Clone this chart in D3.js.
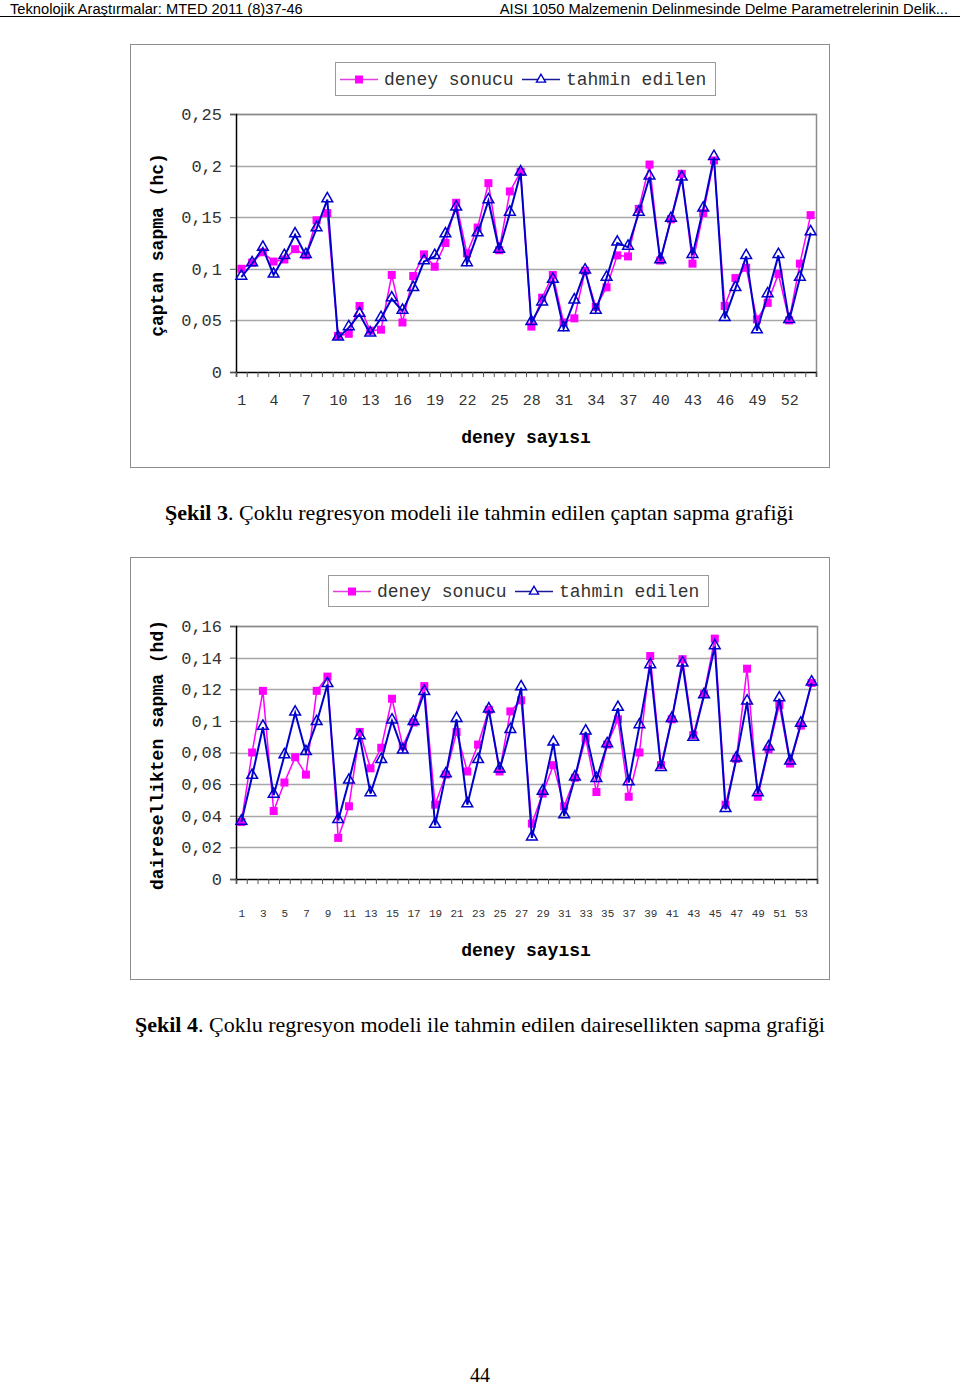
<!DOCTYPE html>
<html><head><meta charset="utf-8">
<script src="https://cdn.jsdelivr.net/npm/d3@7"></script>
<style>body{margin:0;background:#fff}svg{display:block}</style>
</head><body>
<script>
const experiments = d3.range(1, 55);
const hcDeney = [0.100,0.106,0.116,0.107,0.109,0.119,0.113,0.147,0.154,0.035,0.037,0.064,0.040,0.041,0.094,0.048,0.093,0.114,0.102,0.125,0.164,0.115,0.140,0.183,0.118,0.175,0.194,0.044,0.072,0.094,0.048,0.052,0.098,0.063,0.082,0.113,0.112,0.158,0.201,0.108,0.148,0.192,0.105,0.154,0.205,0.064,0.091,0.101,0.051,0.067,0.095,0.050,0.105,0.152];
const hcTahmin = [0.092,0.105,0.120,0.094,0.112,0.133,0.113,0.139,0.167,0.033,0.043,0.056,0.037,0.052,0.071,0.059,0.081,0.107,0.112,0.133,0.159,0.105,0.134,0.166,0.118,0.154,0.193,0.048,0.067,0.089,0.042,0.069,0.098,0.059,0.091,0.125,0.121,0.154,0.189,0.108,0.148,0.188,0.113,0.158,0.208,0.052,0.081,0.112,0.040,0.075,0.113,0.050,0.091,0.135];
const hdDeney = [0.036,0.080,0.119,0.043,0.061,0.077,0.066,0.119,0.128,0.026,0.046,0.093,0.070,0.083,0.114,0.084,0.099,0.122,0.047,0.066,0.093,0.068,0.085,0.107,0.068,0.106,0.113,0.035,0.054,0.072,0.046,0.064,0.089,0.055,0.085,0.101,0.052,0.080,0.141,0.072,0.101,0.139,0.091,0.117,0.152,0.047,0.076,0.133,0.052,0.082,0.110,0.073,0.097,0.124];
const hdTahmin = [0.036,0.065,0.096,0.053,0.078,0.105,0.080,0.099,0.123,0.037,0.062,0.090,0.054,0.075,0.100,0.081,0.099,0.118,0.034,0.066,0.101,0.047,0.075,0.107,0.069,0.094,0.121,0.026,0.055,0.086,0.040,0.064,0.093,0.063,0.085,0.108,0.061,0.097,0.135,0.070,0.101,0.136,0.089,0.116,0.147,0.044,0.076,0.112,0.054,0.083,0.114,0.074,0.098,0.124];
const yTicks1 = [0, 0.05, 0.1, 0.15, 0.2, 0.25];
const yTicks2 = [0, 0.02, 0.04, 0.06, 0.08, 0.1, 0.12, 0.14, 0.16];
const xTicks1 = [1,4,7,10,13,16,19,22,25,28,31,34,37,40,43,46,49,52];
const xTicks2 = [1,3,5,7,9,11,13,15,17,19,21,23,25,27,29,31,33,35,37,39,41,43,45,47,49,51,53];
const seriesNames = ["deney sonucu", "tahmin edilen"];
const yLabels = ["çaptan sapma (hc)", "dairesellikten sapma (hd)"];
const xTitle = "deney sayısı";

const PINK = "#ff00ff", BLUE = "#0000cc";
const MONO = "'Liberation Mono','DejaVu Sans Mono',monospace";
const SERIF = "'Liberation Serif','Times New Roman',serif";

const svg = d3.select("body").append("svg").attr("width", 960).attr("height", 1387);

// header
svg.append("text").attr("x", 10).attr("y", 13.5).attr("font-family", "'Liberation Sans',Arial,sans-serif")
  .attr("font-size", 14.7).text("Teknolojik Araştırmalar: MTED 2011 (8)37-46");
svg.append("text").attr("x", 948).attr("y", 13.5).attr("text-anchor", "end").attr("font-family", "'Liberation Sans',Arial,sans-serif")
  .attr("font-size", 14.7).text("AISI 1050 Malzemenin Delinmesinde Delme Parametrelerinin Delik...");
svg.append("line").attr("x1", 0).attr("x2", 960).attr("y1", 16.5).attr("y2", 16.5).attr("stroke", "#000").attr("stroke-width", 1);

function fmt(v) { return String(v).replace(".", ","); }

function chart(cfg) {
  const g = svg.append("g");
  g.append("rect").attr("x", cfg.box[0] + 0.5).attr("y", cfg.box[1] + 0.5)
    .attr("width", cfg.box[2] - cfg.box[0]).attr("height", cfg.box[3] - cfg.box[1])
    .attr("fill", "#fff").attr("stroke", "#8c8c8c");

  const x = d3.scaleLinear().domain([0.5, 54.5]).range([cfg.plot[0], cfg.plot[2]]);
  const y = d3.scaleLinear().domain([0, cfg.ymax]).range([cfg.plot[3], cfg.plot[1]]);

  // gridlines
  g.append("g").selectAll("line").data(cfg.yTicks.filter(d => d > 0)).join("line")
    .attr("x1", cfg.plot[0]).attr("x2", cfg.plot[2])
    .attr("y1", d => Math.round(y(d)) + 0.5).attr("y2", d => Math.round(y(d)) + 0.5)
    .attr("stroke", "#a6a6a6").attr("stroke-width", 1.3);
  // plot border (top/right)
  g.append("path").attr("d", `M${cfg.plot[0]},${cfg.plot[1] + 0.5}H${cfg.plot[2] + 0.5}V${cfg.plot[3]}`)
    .attr("fill", "none").attr("stroke", "#8c8c8c").attr("stroke-width", 1.5);

  // y axis
  const ya = g.append("g").attr("transform", `translate(${cfg.plot[0]},0)`)
    .call(d3.axisLeft(y).tickValues(cfg.yTicks).tickSize(6).tickPadding(8).tickFormat(fmt));
  ya.select(".domain").attr("stroke", "#000").attr("stroke-width", 1.5);
  ya.selectAll(".tick line").attr("stroke", "#555");
  ya.selectAll("text").attr("font-family", MONO).attr("font-size", 17).attr("fill", "#333");

  // x axis: boundary tick marks
  const xa = g.append("g").attr("transform", `translate(0,${cfg.plot[3]})`)
    .call(d3.axisBottom(x).tickValues(d3.range(0.5, 55, 1)).tickSize(5).tickFormat(""));
  xa.select(".domain").attr("stroke", "#000").attr("stroke-width", 1.5);
  xa.selectAll(".tick line").attr("stroke", "#555");
  // x labels
  const xl = g.append("g").attr("transform", `translate(0,${cfg.plot[3]})`)
    .call(d3.axisBottom(x).tickValues(cfg.xTicks).tickSize(0).tickPadding(cfg.xPad));
  xl.select(".domain").remove();
  xl.selectAll("text").attr("font-family", MONO).attr("font-size", cfg.xFont).attr("fill", "#333");

  // axis titles
  g.append("text").attr("x", 526).attr("y", cfg.xTitleY).attr("text-anchor", "middle")
    .attr("font-family", MONO).attr("font-weight", "bold").attr("font-size", 18).text(xTitle);
  g.append("text").attr("transform", `translate(${cfg.yTitle[0]},${cfg.yTitle[1]}) rotate(-90)`)
    .attr("text-anchor", "middle").attr("font-family", MONO).attr("font-weight", "bold")
    .attr("font-size", 18).text(cfg.yLabel);

  // series
  const line = d3.line().x((d, i) => x(experiments[i])).y(d => y(d));
  g.append("path").datum(cfg.a).attr("d", line).attr("fill", "none").attr("stroke", PINK).attr("stroke-width", 1.5);
  g.append("g").selectAll("rect").data(cfg.a).join("rect")
    .attr("x", (d, i) => x(experiments[i]) - 4).attr("y", d => y(d) - 4)
    .attr("width", 8).attr("height", 8).attr("fill", PINK);
  g.append("path").datum(cfg.b).attr("d", line).attr("fill", "none").attr("stroke", BLUE).attr("stroke-width", 2);
  const tri = d3.symbol().type(d3.symbolTriangle).size(50);
  g.append("g").selectAll("path").data(cfg.b).join("path")
    .attr("transform", (d, i) => `translate(${x(experiments[i])},${y(d) - 1})`)
    .attr("d", tri).attr("fill", "none").attr("stroke", BLUE).attr("stroke-width", 1.5);

  // legend
  const L = cfg.legend;
  g.append("rect").attr("x", L[0] + 0.5).attr("y", L[1] + 0.5).attr("width", L[2] - L[0]).attr("height", L[3] - L[1])
    .attr("fill", "#fff").attr("stroke", "#9a9a9a");
  const ly = (L[1] + L[3]) / 2 + 1;
  const lx1 = L[0] + 5, lx2 = L[0] + 187;
  g.append("line").attr("x1", lx1).attr("x2", lx1 + 38).attr("y1", ly).attr("y2", ly).attr("stroke", "#e040e0").attr("stroke-width", 1.6);
  g.append("rect").attr("x", lx1 + 15).attr("y", ly - 4).attr("width", 8).attr("height", 8).attr("fill", PINK);
  g.append("text").attr("x", lx1 + 44).attr("y", ly).attr("dy", "0.32em").attr("font-family", MONO).attr("font-size", 18).attr("fill", "#333").text(seriesNames[0]);
  g.append("line").attr("x1", lx2).attr("x2", lx2 + 38).attr("y1", ly).attr("y2", ly).attr("stroke", "#1a1a99").attr("stroke-width", 1.6);
  g.append("path").attr("transform", `translate(${lx2 + 19},${ly})`).attr("d", d3.symbol().type(d3.symbolTriangle).size(36))
    .attr("fill", "#fff").attr("stroke", BLUE).attr("stroke-width", 1.4);
  g.append("text").attr("x", lx2 + 44).attr("y", ly).attr("dy", "0.32em").attr("font-family", MONO).attr("font-size", 18).attr("fill", "#333").text(seriesNames[1]);
}

chart({box: [130, 44, 829, 467], plot: [236, 114, 816, 372], ymax: 0.25, yTicks: yTicks1, xTicks: xTicks1,
  xFont: 15, xPad: 22, xTitleY: 443, yTitle: [163, 245], yLabel: yLabels[0], a: hcDeney, b: hcTahmin,
  legend: [335, 62, 715, 95]});
chart({box: [130, 557, 829, 979], plot: [236, 626, 817, 879], ymax: 0.16, yTicks: yTicks2, xTicks: xTicks2,
  xFont: 11, xPad: 30, xTitleY: 956, yTitle: [163, 755], yLabel: yLabels[1], a: hdDeney, b: hdTahmin,
  legend: [328, 575, 708, 606]});

// captions
function caption(xp, yp, bold, rest) {
  const t = svg.append("text").attr("x", xp).attr("y", yp).attr("font-family", SERIF).attr("font-size", 22);
  t.append("tspan").attr("font-weight", "bold").text(bold);
  t.append("tspan").text(rest);
}
caption(165, 520, "Şekil 3", ". Çoklu regresyon modeli ile tahmin edilen çaptan sapma grafiği");
caption(135, 1032, "Şekil 4", ". Çoklu regresyon modeli ile tahmin edilen dairesellikten sapma grafiği");
svg.append("text").attr("x", 480).attr("y", 1382).attr("text-anchor", "middle").attr("font-family", SERIF).attr("font-size", 20).text("44");
</script>
</body></html>
